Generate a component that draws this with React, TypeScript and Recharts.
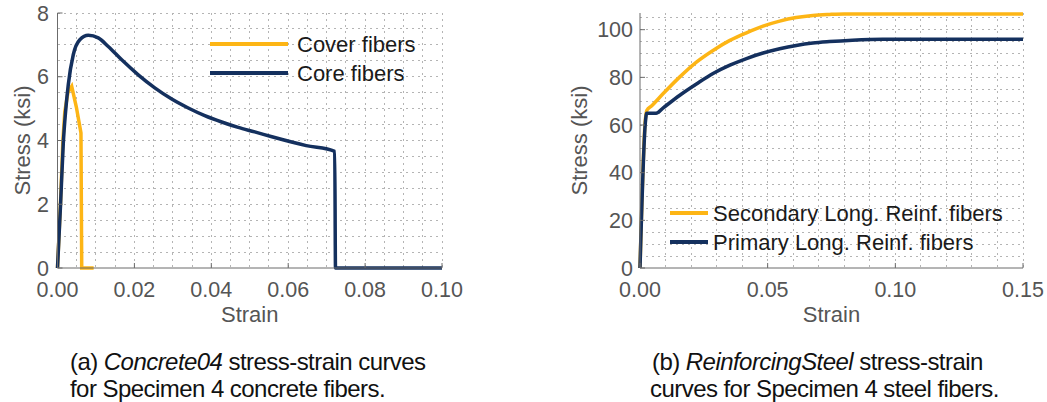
import React from 'react';
import { LineChart, Line, XAxis, YAxis, CartesianGrid, Legend } from 'recharts';

// ---------- (a) Concrete04 ----------
const coverStrain = [0, 0.0008, 0.0014, 0.0019, 0.0027, 0.0037, 0.0049, 0.0061, 0.0063, 0.0094];
const coverStress = [0, 2.1, 4.0, 4.9, 5.5, 5.7, 5.05, 4.24, 0, 0];

const coreStrain = [0, 0.0008, 0.0015, 0.0021, 0.0028, 0.0041, 0.0058, 0.008, 0.0106, 0.0132, 0.0167, 0.021, 0.0253, 0.0297, 0.034, 0.0383, 0.0427, 0.047, 0.0513, 0.056, 0.0647, 0.0721, 0.0723, 0.1];
const coreStress = [0, 2.0, 3.9, 4.9, 5.75, 6.69, 7.16, 7.3, 7.22, 6.95, 6.53, 6.06, 5.65, 5.3, 5.02, 4.78, 4.58, 4.41, 4.27, 4.11, 3.84, 3.66, 0, 0];

const concreteSeriesNames = ['Cover fibers', 'Core fibers'];
const concreteXTicks = [0, 0.02, 0.04, 0.06, 0.08, 0.1];
const concreteYTicks = [0, 2, 4, 6, 8];
const concreteXGrid = [0.005, 0.01, 0.015, 0.02, 0.025, 0.03, 0.035, 0.04, 0.045, 0.05, 0.055, 0.06, 0.065, 0.07, 0.075, 0.08, 0.085, 0.09, 0.095, 0.1];
const concreteYGrid = [0.5, 1, 1.5, 2, 2.5, 3, 3.5, 4, 4.5, 5, 5.5, 6, 6.5, 7, 7.5, 8];

// ---------- (b) ReinforcingSteel ----------
const secondaryStrain = [0, 0.002, 0.0027, 0.0046, 0.0091, 0.0156, 0.0221, 0.0286, 0.0352, 0.0417, 0.0482, 0.0547, 0.0612, 0.0677, 0.0742, 0.08, 0.15];
const secondaryStress = [0, 61, 66.2, 68.1, 73.2, 80.2, 86.4, 91.3, 95.5, 98.7, 101.5, 103.6, 105.1, 106, 106.4, 106.6, 106.6];

const primaryStrain = [0, 0.0021, 0.0026, 0.0063, 0.0091, 0.0156, 0.0221, 0.0286, 0.0352, 0.0417, 0.0482, 0.0547, 0.0612, 0.0677, 0.0742, 0.0832, 0.095, 0.15];
const primaryStress = [0, 61, 64.9, 64.9, 67.2, 72.5, 77.2, 81.6, 85.1, 87.9, 90.2, 92, 93.4, 94.4, 95, 95.6, 96, 96];

const steelSeriesNames = ['Secondary Long. Reinf. fibers', 'Primary Long. Reinf. fibers'];
const steelXTicks = [0, 0.05, 0.1, 0.15];
const steelYTicks = [0, 20, 40, 60, 80, 100];
const steelXGrid = [0.01, 0.02, 0.03, 0.04, 0.05, 0.06, 0.07, 0.08, 0.09, 0.1, 0.11, 0.12, 0.13, 0.14, 0.15];
const steelYGrid = [5, 10, 15, 20, 25, 30, 35, 40, 45, 50, 55, 60, 65, 70, 75, 80, 85, 90, 95, 100, 105];

const GOLD = '#FDB515';
const NAVY = '#14305E';
const FONT = '"Liberation Sans", Arial, Helvetica, sans-serif';
const AXIS = '#6b6b6b';
const TICKTXT = '#555555';
const GRID = '#b4b4b4';

const rows = (xs: number[], ys: number[]) => xs.map((x, i) => ({ x, y: ys[i] }));

const coverRows = rows(coverStrain, coverStress);
const coreRows = rows(coreStrain, coreStress);
const secondaryRows = rows(secondaryStrain, secondaryStress);
const primaryRows = rows(primaryStrain, primaryStress);

const makeLegend = (order: string[], lineW: number, gap: number) => (props: any) => {
  const payload = [...(props.payload || [])].sort(
    (a: any, b: any) => order.indexOf(a.value) - order.indexOf(b.value)
  );
  return (
    <div style={{ fontFamily: FONT, fontSize: 22, color: '#1a1a1a', lineHeight: '29px' }}>
      {payload.map((e: any, i: number) => (
        <div key={i} style={{ display: 'flex', alignItems: 'center', height: 29, whiteSpace: 'nowrap' }}>
          <span style={{ display: 'inline-block', width: lineW, height: 4, background: e.color, marginRight: gap }} />
          <span>{e.value}</span>
        </div>
      ))}
    </div>
  );
};

const tickStyle = { fontFamily: FONT, fontSize: 21.5, fill: TICKTXT };
const labelStyle = { fontFamily: FONT, fontSize: 22, fill: TICKTXT, textAnchor: 'middle' as const };

export default function App() {
  return (
    <div style={{ position: 'absolute', left: 0, top: 0, width: 1047, height: 402, background: '#ffffff', overflow: 'hidden' }}>
      <style>{`.recharts-cartesian-grid line { shape-rendering: crispEdges; }`}</style>
      <div style={{ position: 'absolute', left: 0, top: 0 }}>
        <LineChart width={470} height={340} margin={{ top: 13, right: 28, left: 0, bottom: 0 }}>
          <CartesianGrid
            stroke={GRID}
            strokeWidth={1}
            strokeDasharray="2 4"
            horizontalValues={concreteYGrid}
            verticalValues={concreteXGrid}
          />
          <XAxis
            type="number"
            dataKey="x"
            domain={[0, 0.1]}
            ticks={concreteXTicks}
            interval={0}
            tickFormatter={(v: number) => v.toFixed(2)}
            height={72}
            stroke={AXIS}
            tickSize={-5}
            tickMargin={19}
            tick={tickStyle}
            label={{ value: 'Strain', position: 'insideBottom', offset: 18, style: labelStyle }}
          />
          <YAxis
            type="number"
            domain={[0, 8]}
            ticks={concreteYTicks}
            interval={0}
            width={57.5}
            stroke={AXIS}
            tickSize={-5}
            tickMargin={13.5}
            tick={tickStyle}
            label={{ value: 'Stress (ksi)', angle: -90, position: 'insideLeft', offset: 22, style: labelStyle }}
          />
          <Legend
            layout="vertical"
            align="center"
            verticalAlign="middle"
            wrapperStyle={{ left: 210, top: 29.5, width: 240 }}
            content={makeLegend(concreteSeriesNames, 78, 9)}
          />
          <Line data={coverRows} dataKey="y" name={concreteSeriesNames[0]} type="linear" stroke={GOLD} strokeWidth={3.5} dot={false} activeDot={false} isAnimationActive={false} />
          <Line data={coreRows} dataKey="y" name={concreteSeriesNames[1]} type="monotone" stroke={NAVY} strokeWidth={3.5} dot={false} activeDot={false} isAnimationActive={false} />
        </LineChart>
      </div>

      <div style={{ position: 'absolute', left: 540, top: 0 }}>
        <LineChart width={507} height={340} margin={{ top: 13, right: 24, left: 0, bottom: 0 }}>
          <CartesianGrid
            stroke={GRID}
            strokeWidth={1}
            strokeDasharray="2 4"
            horizontalValues={steelYGrid}
            verticalValues={steelXGrid}
          />
          <XAxis
            type="number"
            dataKey="x"
            domain={[0, 0.15]}
            ticks={steelXTicks}
            interval={0}
            tickFormatter={(v: number) => v.toFixed(2)}
            height={72}
            stroke={AXIS}
            tickSize={-5}
            tickMargin={19}
            tick={tickStyle}
            label={{ value: 'Strain', position: 'insideBottom', offset: 18, style: labelStyle }}
          />
          <YAxis
            type="number"
            domain={[0, 107]}
            ticks={steelYTicks}
            interval={0}
            width={100}
            stroke={AXIS}
            tickSize={-5}
            tickMargin={12}
            tick={tickStyle}
            label={{ value: 'Stress (ksi)', angle: -90, position: 'insideLeft', offset: 39, style: labelStyle }}
          />
          <Legend
            layout="vertical"
            align="center"
            verticalAlign="middle"
            wrapperStyle={{ left: 130, top: 198.5, width: 360 }}
            content={makeLegend(steelSeriesNames, 38, 5)}
          />
          <Line data={secondaryRows} dataKey="y" name={steelSeriesNames[0]} type="monotone" stroke={GOLD} strokeWidth={3.5} dot={false} activeDot={false} isAnimationActive={false} />
          <Line data={primaryRows} dataKey="y" name={steelSeriesNames[1]} type="monotone" stroke={NAVY} strokeWidth={3.5} dot={false} activeDot={false} isAnimationActive={false} />
        </LineChart>
      </div>

      <svg width={1047} height={402} style={{ position: 'absolute', left: 0, top: 0, pointerEvents: 'none' }}>
        <g fontFamily={FONT} fontSize={24} fill="#111111" letterSpacing={-0.55}>
          <text x={70} y={370}>
            (a) <tspan fontStyle="italic">Concrete04</tspan> stress-strain curves
          </text>
          <text x={70} y={397}>for Specimen 4 concrete fibers.</text>
          <text x={652} y={370}>
            (b) <tspan fontStyle="italic">ReinforcingSteel</tspan> stress-strain
          </text>
          <text x={650} y={397}>curves for Specimen 4 steel fibers.</text>
        </g>
      </svg>
    </div>
  );
}
